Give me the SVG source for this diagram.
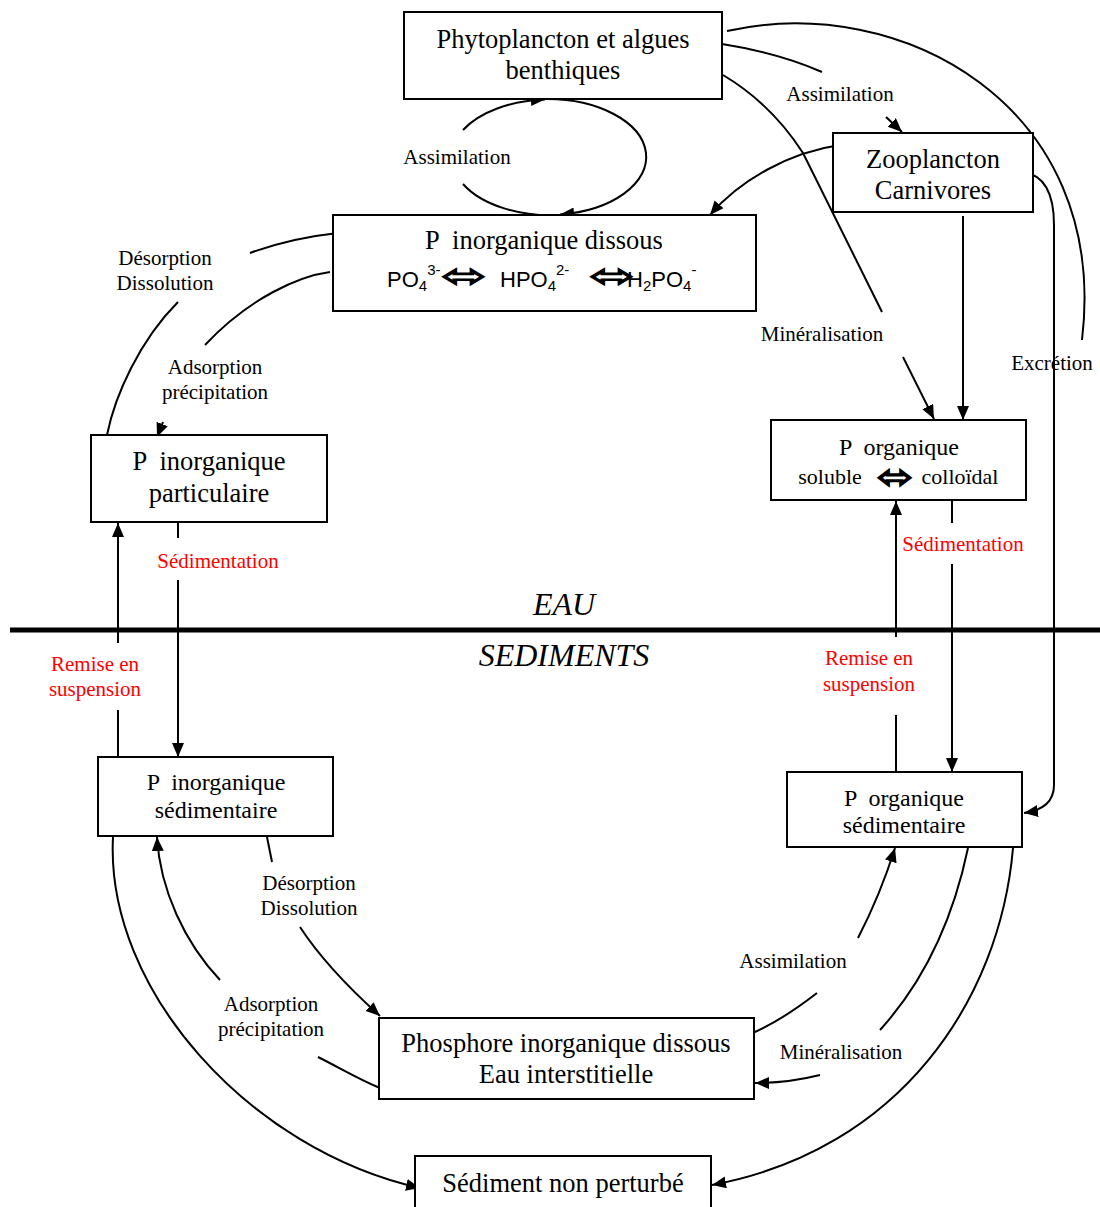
<svg xmlns="http://www.w3.org/2000/svg" width="1100" height="1207" viewBox="0 0 1100 1207">
<defs>
<marker id="ah" markerUnits="userSpaceOnUse" markerWidth="16" markerHeight="14" refX="14" refY="6" orient="auto" viewBox="0 0 16 14"><path d="M0,0 L14,6 L0,12 z" fill="#000"/></marker>
<style>
.box{fill:#fff;stroke:#000;stroke-width:2}
.t{font-family:"Liberation Serif","Times New Roman",serif;fill:#000;text-anchor:middle}
.big{font-size:26.5px}
.sm{font-size:24px}
.lab{font-family:"Liberation Serif","Times New Roman",serif;font-size:21px;fill:#000;text-anchor:middle}
.red{fill:#ff0000}
.ln{fill:none;stroke:#000;stroke-width:2}
.arr{marker-end:url(#ah)}
.chem{font-family:"Liberation Sans",Arial,sans-serif;font-size:22px;fill:#000}
.dbl{font-family:"DejaVu Sans",sans-serif;fill:#000;stroke:#000;stroke-width:0.9}
.zone{font-family:"Liberation Serif","Times New Roman",serif;font-size:32px;font-style:italic;text-anchor:middle}
</style>
</defs>
<rect width="1100" height="1207" fill="#fff"/>

<g id="connectors">
<path class="ln arr" d="M463,130 A99,58 0 0,1 545,99.5"/>
<path class="ln arr" d="M545,99 A99,58 0 0,1 560,214.5"/>
<path class="ln" d="M560,215 A99,58 0 0,1 463,184"/>
<path class="ln" d="M722,44 C760,50 795,60 822,72"/>
<path class="ln arr" d="M886,117 L902,132"/>
<path class="ln" d="M723,75 C760,97 785,125 803,153 L882,312"/>
<path class="ln arr" d="M903,357 L934,419"/>
<path class="ln" d="M727,31 C900,-8 1110,105 1082,340"/>
<path class="ln arr" d="M1023,172 C1045,175 1054,195 1054,225 L1054,785 C1054,800 1045,810 1024,813"/>
<path class="ln arr" d="M840,145 C790,152 740,180 710,215"/>
<path class="ln arr" d="M963,216 L963,420"/>
<path class="ln" d="M330,272 C300,276 250,297 205,345"/>
<path class="ln arr" d="M163,422 L157,437"/>
<path class="ln" d="M107,435 C115,395 140,340 178,302"/>
<path class="ln" d="M250,253 C280,242 310,236 338,233"/>
<path class="ln arr" d="M118,643 L118,523"/>
<path class="ln" d="M118,710 L118,757"/>
<path class="ln" d="M178,523 L178,538"/>
<path class="ln arr" d="M178,580 L178,757"/>
<path class="ln arr" d="M896,637 L896,501"/>
<path class="ln" d="M896,715 L896,772"/>
<path class="ln" d="M952,500 L952,523"/>
<path class="ln arr" d="M952,564 L952,772"/>
<path class="ln" d="M267,837 L272,862"/>
<path class="ln arr" d="M300,927 C315,950 340,980 380,1016"/>
<path class="ln" d="M380,1088 C360,1080 340,1068 318,1057"/>
<path class="ln arr" d="M220,980 C185,943 160,890 157,837"/>
<path class="ln arr" d="M113,837 C105,990 250,1150 420,1188"/>
<path class="ln arr" d="M1013,848 C1000,1000 900,1150 712,1185"/>
<path class="ln" d="M968,848 C955,910 930,975 880,1030"/>
<path class="ln arr" d="M820,1075 C800,1080 780,1083 755,1083"/>
<path class="ln" d="M755,1032 C775,1023 795,1010 817,993"/>
<path class="ln arr" d="M858,938 C875,905 885,880 895,848"/>
</g>

<g id="divider">
<line x1="10" y1="630" x2="1100" y2="630" stroke="#000" stroke-width="5"/>
<text class="zone" x="564" y="615">EAU</text>
<text class="zone" x="564" y="666">SEDIMENTS</text>
</g>

<g id="n-phyto">
<rect class="box" x="404" y="12" width="318" height="87"/>
<text class="t big" x="563" y="48">Phytoplancton et algues</text>
<text class="t big" x="563" y="79">benthiques</text>
</g>
<g id="n-zoo">
<rect class="box" x="833" y="133" width="200" height="79"/>
<text class="t big" x="933" y="168">Zooplancton</text>
<text class="t big" x="933" y="199">Carnivores</text>
</g>
<g id="n-pid">
<rect class="box" x="333" y="215" width="423" height="96"/>
<text class="t big" x="544" y="249" xml:space="preserve">P  inorganique dissous</text>
<text class="chem" x="387" y="287">PO<tspan font-size="15" dy="4">4</tspan><tspan font-size="15" dy="-16">3-</tspan></text>
<text class="dbl" transform="translate(441,277) scale(1,1.25)" x="0" y="8" font-size="26" textLength="46" lengthAdjust="spacingAndGlyphs">⬄</text>
<text class="chem" x="500" y="287">HPO<tspan font-size="15" dy="4">4</tspan><tspan font-size="15" dy="-16">2-</tspan></text>
<text class="dbl" transform="translate(589,277) scale(1,1.25)" x="0" y="8" font-size="26" textLength="46" lengthAdjust="spacingAndGlyphs">⬄</text>
<text class="chem" x="627" y="287">H<tspan font-size="15" dy="4">2</tspan><tspan dy="-4">PO</tspan><tspan font-size="15" dy="4">4</tspan><tspan font-size="15" dy="-16">-</tspan></text>
</g>
<g id="n-pip">
<rect class="box" x="91" y="435" width="236" height="87"/>
<text class="t big" x="209" y="470" xml:space="preserve">P  inorganique</text>
<text class="t big" x="209" y="502">particulaire</text>
</g>
<g id="n-po">
<rect class="box" x="771" y="420" width="255" height="80"/>
<text class="t sm" x="899" y="455" xml:space="preserve">P  organique</text>
<text class="t" x="830" y="484" font-size="22">soluble</text>
<text class="dbl" transform="translate(877,478) scale(1,1.8)" x="0" y="5.5" font-size="18" textLength="36" lengthAdjust="spacingAndGlyphs">⬄</text>
<text class="t" x="960" y="484" font-size="22">colloïdal</text>
</g>
<g id="n-pis">
<rect class="box" x="98" y="757" width="235" height="79"/>
<text class="t sm" x="216" y="790" xml:space="preserve">P  inorganique</text>
<text class="t sm" x="216" y="818">sédimentaire</text>
</g>
<g id="n-pos">
<rect class="box" x="787" y="772" width="235" height="75"/>
<text class="t sm" x="904" y="806" xml:space="preserve">P  organique</text>
<text class="t sm" x="904" y="833">sédimentaire</text>
</g>
<g id="n-pdi">
<rect class="box" x="379" y="1018" width="375" height="81"/>
<text class="t big" x="566" y="1052">Phosphore inorganique dissous</text>
<text class="t big" x="566" y="1083">Eau interstitielle</text>
</g>
<g id="n-snp">
<rect class="box" x="415" y="1156" width="296" height="60"/>
<text class="t big" x="563" y="1192">Sédiment non perturbé</text>
</g>

<g id="labels">
<text class="lab" x="457" y="164">Assimilation</text>
<text class="lab" x="840" y="101">Assimilation</text>
<text class="lab" x="822" y="341">Minéralisation</text>
<text class="lab" x="1052" y="370">Excrétion</text>
<text class="lab" x="165" y="265">Désorption</text>
<text class="lab" x="165" y="290">Dissolution</text>
<text class="lab" x="215" y="374">Adsorption</text>
<text class="lab" x="215" y="399">précipitation</text>
<text class="lab red" x="218" y="568">Sédimentation</text>
<text class="lab red" x="963" y="551">Sédimentation</text>
<text class="lab red" x="95" y="671">Remise en</text>
<text class="lab red" x="95" y="696">suspension</text>
<text class="lab red" x="869" y="665">Remise en</text>
<text class="lab red" x="869" y="691">suspension</text>
<text class="lab" x="309" y="890">Désorption</text>
<text class="lab" x="309" y="915">Dissolution</text>
<text class="lab" x="271" y="1011">Adsorption</text>
<text class="lab" x="271" y="1036">précipitation</text>
<text class="lab" x="793" y="968">Assimilation</text>
<text class="lab" x="841" y="1059">Minéralisation</text>
</g>
</svg>
